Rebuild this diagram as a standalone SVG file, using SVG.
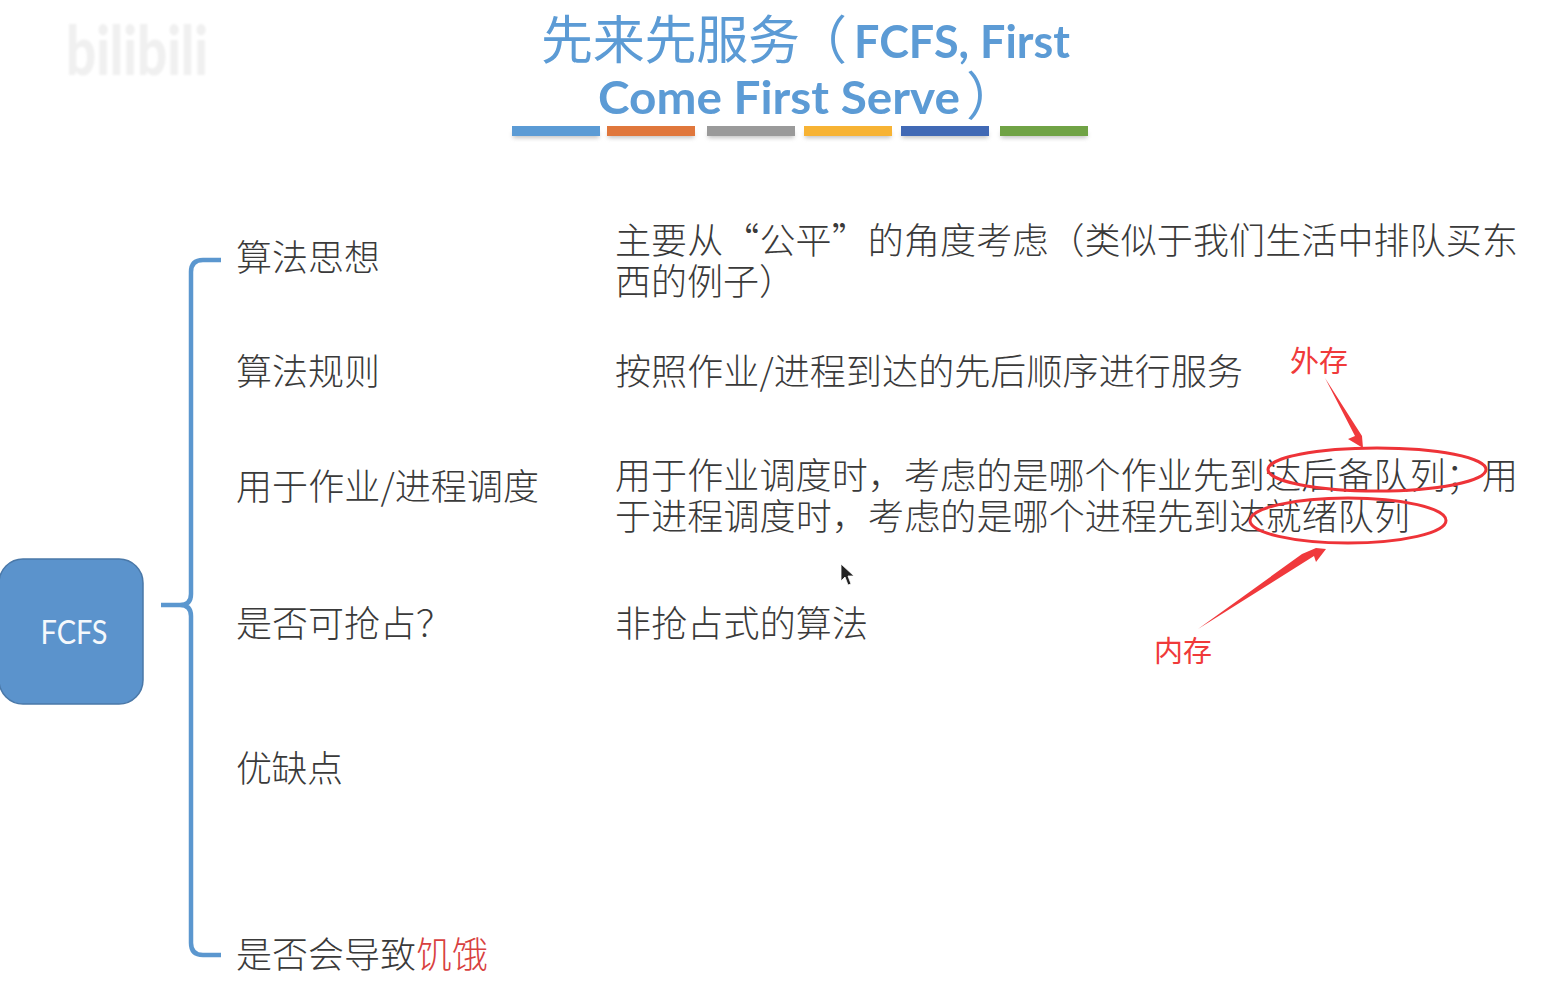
<svg xmlns="http://www.w3.org/2000/svg" width="1541" height="987" viewBox="0 0 1541 987">
<defs>
<filter id="sh" x="-10%" y="-60%" width="120%" height="260%"><feGaussianBlur stdDeviation="2"/></filter>
<filter id="soft" x="-5%" y="-5%" width="110%" height="110%"><feGaussianBlur stdDeviation="0.35"/></filter>
<filter id="wm" x="-5%" y="-5%" width="110%" height="110%"><feGaussianBlur stdDeviation="1"/></filter>
</defs>
<style>
.t{font-family:"Noto Sans CJK SC","Noto Sans",sans-serif;font-size:36px;fill:#3a3a3a;font-weight:300}
.h{font-family:"Noto Sans CJK SC",sans-serif;font-size:52px;fill:#5b9bd5;font-weight:400}
.e{font-family:Lato,"Liberation Sans",sans-serif;font-weight:700;font-size:46px;fill:#5b9bd5}
.r{font-family:"Noto Sans CJK SC",sans-serif;font-size:29px;fill:#f03a3a;font-weight:400}
.ring{fill:none;stroke:#ee3338;stroke-width:3}
.arrow{fill:#f0393c}
.brace{fill:none;stroke:#5b97cf;stroke-width:4.5}
.bs{fill:#888;opacity:.5;filter:url(#sh)}
</style>
<rect width="1541" height="987" fill="#ffffff"/>
<g id="watermark" filter="url(#wm)"><text x="66" y="75" font-family="Lato,sans-serif" font-weight="900" font-size="68" fill="#f0f0f0" textLength="142" lengthAdjust="spacingAndGlyphs">bilibili</text></g>
<g id="title" filter="url(#soft)">
<text class="h" x="541" y="59" textLength="259" lengthAdjust="spacing">先来先服务</text>
<text class="h" x="795" y="59">（</text>
<text class="e" x="854" y="58" textLength="216" lengthAdjust="spacingAndGlyphs">FCFS, First</text>
<text class="e" x="598" y="114" textLength="362" lengthAdjust="spacingAndGlyphs">Come First Serve</text>
<text class="h" x="966" y="115">）</text>
</g>
<g id="title-bars">
<rect class="bs" x="513" y="132" width="86" height="6"/>
<rect class="bs" x="608" y="132" width="86" height="6"/>
<rect class="bs" x="708" y="132" width="86" height="6"/>
<rect class="bs" x="805" y="132" width="86" height="6"/>
<rect class="bs" x="902" y="132" width="86" height="6"/>
<rect class="bs" x="1001" y="132" width="86" height="6"/>
<rect x="512" y="126" width="88" height="10" fill="#5b9bd5"/>
<rect x="607" y="126" width="88" height="10" fill="#e0773c"/>
<rect x="707" y="126" width="88" height="10" fill="#9a9a9a"/>
<rect x="804" y="126" width="88" height="10" fill="#f7b334"/>
<rect x="901" y="126" width="88" height="10" fill="#4169b5"/>
<rect x="1000" y="126" width="88" height="10" fill="#70a345"/>
</g>
<g id="connectors">
<path class="brace" d="M221 260 H203 Q191 260 191 272 V594 Q191 605 180 605 H161 M180 605 Q191 605 191 616 V943 Q191 955 203 955 H221"/>
</g>
<g id="node-fcfs">
<rect x="-1" y="559" width="144" height="145" rx="24" fill="#5b93cc" stroke="#4a78a8" stroke-width="1.5"/>
<text x="74" y="644" text-anchor="middle" font-family="Lato,sans-serif" font-size="32" fill="#f4f8fc" textLength="67" lengthAdjust="spacingAndGlyphs">FCFS</text>
</g>
<g id="labels">
<text class="t" x="236" y="271" textLength="144">算法思想</text>
<text class="t" x="236" y="385" textLength="144">算法规则</text>
<text class="t" x="236" y="500" textLength="303">用于作业/进程调度</text>
<text class="t" x="236" y="637">是否可抢占？</text>
<text class="t" x="236" y="782" textLength="107">优缺点</text>
<text class="t" x="236" y="968" textLength="180">是否会导致</text>
<text class="t" x="416" y="968" textLength="72" style="fill:#d8413f">饥饿</text>
</g>
<g id="descriptions">
<text class="t" x="615" y="254" textLength="903">主要从“公平”的角度考虑（类似于我们生活中排队买东</text>
<text class="t" x="615" y="295" textLength="180">西的例子）</text>
<text class="t" x="615" y="385" textLength="628">按照作业/进程到达的先后顺序进行服务</text>
<text class="t" x="615" y="489" textLength="903">用于作业调度时，考虑的是哪个作业先到达后备队列；用</text>
<text class="t" x="615" y="530" textLength="795">于进程调度时，考虑的是哪个进程先到达就绪队列</text>
<text class="t" x="615" y="637" textLength="253">非抢占式的算法</text>
</g>
<g id="annotations">
<ellipse class="ring" cx="1377" cy="469.5" rx="109" ry="21.5"/>
<ellipse class="ring" cx="1348" cy="520.5" rx="98" ry="22.5"/>
<path class="arrow" d="M1325 378 L1362 436 L1363 448 L1348 439 L1355 436 Z"/>
<path class="arrow" d="M1198 629 L1302 554 L1316 548 L1326 549 L1316 562 L1314 556 Z"/>
<text class="r" x="1290" y="372">外存</text>
<text class="r" x="1154" y="662">内存</text>
</g>
<g id="cursor"><path d="M841 564 V581 L845 577 L848 585 L851 584 L848 576 L854 576 Z" fill="#222" stroke="#fff" stroke-width=".8"/></g>
</svg>
